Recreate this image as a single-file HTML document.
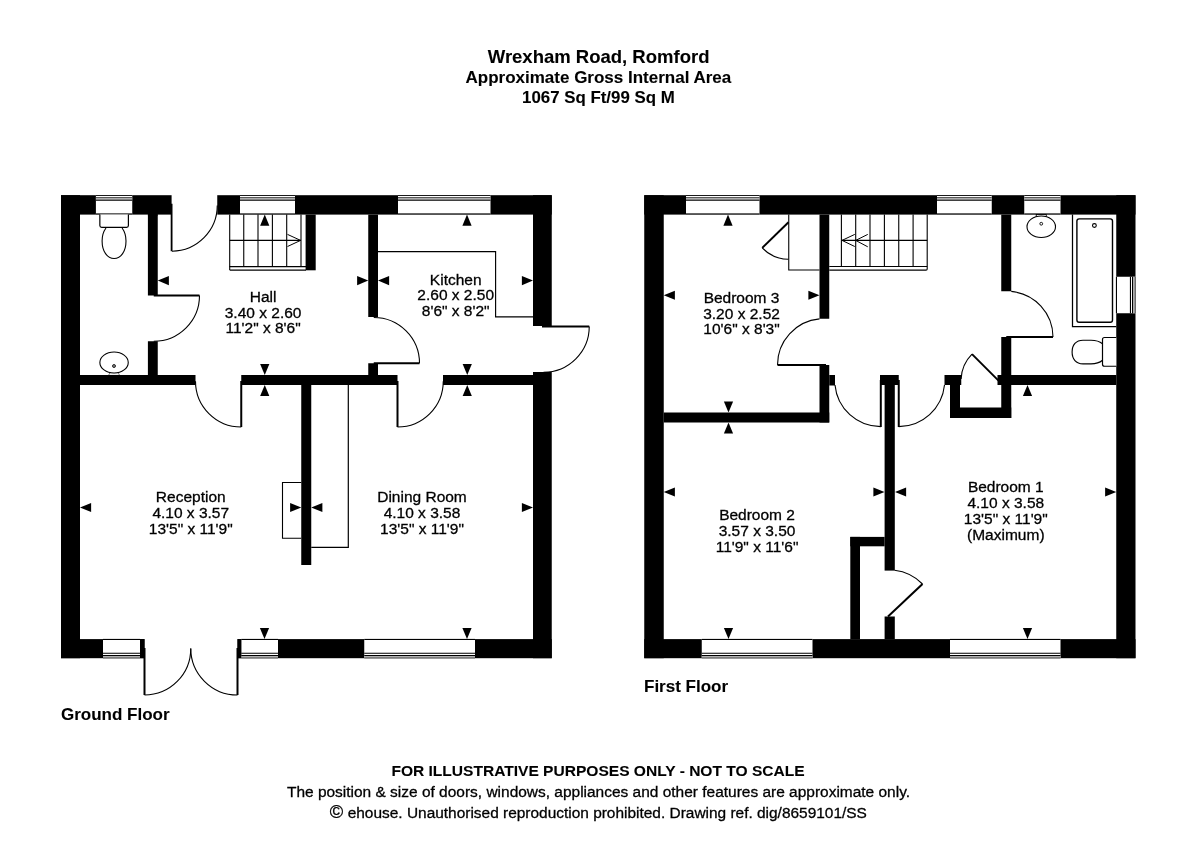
<!DOCTYPE html>
<html><head><meta charset="utf-8"><title>Floor plan</title>
<style>
html,body{margin:0;padding:0;background:#fff;}
body{width:1200px;height:848px;overflow:hidden;font-family:"Liberation Sans",sans-serif;}
svg{display:block;}
svg text{font-family:"Liberation Sans",sans-serif;fill:#000;stroke:#000;stroke-width:0.3px;}
</style></head><body>
<svg width="1200" height="848" viewBox="0 0 1200 848">
<rect x="0" y="0" width="1200" height="848" fill="#fff"/>
<g id="plan">
<rect x="61" y="195.2" width="490.75" height="19.4" fill="#000" />
<rect x="61" y="639.1" width="490.75" height="19.1" fill="#000" />
<rect x="61" y="195.2" width="19" height="463" fill="#000" />
<rect x="533" y="195.2" width="18.75" height="463" fill="#000" />
<rect x="95.9" y="194.9" width="36.35" height="20" fill="#fff" />
<rect x="95.9" y="195" width="36.35" height="0.9" fill="#000" />
<rect x="95.9" y="197" width="36.35" height="1.3" fill="#5a5a5a" />
<rect x="95.9" y="198.3" width="36.35" height="1.4" fill="#a2a2a2" />
<rect x="95.9" y="199.7" width="36.35" height="1.05" fill="#000" />
<rect x="95.9" y="213.4" width="36.35" height="1.25" fill="#000" />
<rect x="171.6" y="194.2" width="45.65" height="21.4" fill="#fff" />
<rect x="240" y="194.9" width="55" height="20" fill="#fff" />
<rect x="240" y="195" width="55" height="0.9" fill="#000" />
<rect x="240" y="197" width="55" height="1.3" fill="#5a5a5a" />
<rect x="240" y="198.3" width="55" height="1.4" fill="#a2a2a2" />
<rect x="240" y="199.7" width="55" height="1.05" fill="#000" />
<rect x="240" y="213.4" width="55" height="1.25" fill="#000" />
<rect x="398" y="194.9" width="92.5" height="20" fill="#fff" />
<rect x="398" y="195" width="92.5" height="0.9" fill="#000" />
<rect x="398" y="197" width="92.5" height="1.3" fill="#5a5a5a" />
<rect x="398" y="198.3" width="92.5" height="1.4" fill="#a2a2a2" />
<rect x="398" y="199.7" width="92.5" height="1.05" fill="#000" />
<rect x="398" y="213.4" width="92.5" height="1.25" fill="#000" />
<rect x="532" y="326" width="20.75" height="46" fill="#fff" />
<rect x="103" y="638.8" width="37" height="19.7" fill="#fff" />
<rect x="103" y="638.9" width="37" height="1.1" fill="#000" />
<rect x="103" y="652.75" width="37" height="1" fill="#000" />
<rect x="103" y="655" width="37" height="1" fill="#000" />
<rect x="103" y="656" width="37" height="1.25" fill="#b0b0b0" />
<rect x="103" y="657.25" width="37" height="1.3" fill="#5a5a5a" />
<rect x="144.5" y="638.1" width="93" height="21.1" fill="#fff" />
<rect x="241.25" y="638.8" width="36.75" height="19.7" fill="#fff" />
<rect x="241.25" y="638.9" width="36.75" height="1.1" fill="#000" />
<rect x="241.25" y="652.75" width="36.75" height="1" fill="#000" />
<rect x="241.25" y="655" width="36.75" height="1" fill="#000" />
<rect x="241.25" y="656" width="36.75" height="1.25" fill="#b0b0b0" />
<rect x="241.25" y="657.25" width="36.75" height="1.3" fill="#5a5a5a" />
<rect x="364.25" y="638.8" width="110.75" height="19.7" fill="#fff" />
<rect x="364.25" y="638.9" width="110.75" height="1.1" fill="#000" />
<rect x="364.25" y="652.75" width="110.75" height="1" fill="#000" />
<rect x="364.25" y="655" width="110.75" height="1" fill="#000" />
<rect x="364.25" y="656" width="110.75" height="1.25" fill="#b0b0b0" />
<rect x="364.25" y="657.25" width="110.75" height="1.3" fill="#5a5a5a" />
<rect x="147.9" y="214.6" width="9.85" height="80.9" fill="#000" />
<rect x="147.9" y="341.25" width="9.85" height="34.75" fill="#000" />
<rect x="80" y="375" width="115.5" height="10" fill="#000" />
<rect x="241.25" y="375" width="156.25" height="10" fill="#000" />
<rect x="443" y="375" width="90" height="10" fill="#000" />
<rect x="305.6" y="214.6" width="10.1" height="55.7" fill="#000" />
<rect x="368.25" y="214.6" width="9.75" height="102.4" fill="#000" />
<rect x="368.25" y="363.25" width="9.75" height="12.75" fill="#000" />
<rect x="301.25" y="385" width="10" height="180" fill="#000" />
<line x1="229.7" y1="214.6" x2="229.7" y2="267" stroke="#000" stroke-width="1.1" />
<line x1="243.75" y1="214.6" x2="243.75" y2="267" stroke="#000" stroke-width="1.1" />
<line x1="258" y1="214.6" x2="258" y2="267" stroke="#000" stroke-width="1.1" />
<line x1="272.4" y1="214.6" x2="272.4" y2="267" stroke="#000" stroke-width="1.1" />
<line x1="286.7" y1="214.6" x2="286.7" y2="267" stroke="#000" stroke-width="1.1" />
<line x1="301" y1="214.6" x2="301" y2="267" stroke="#000" stroke-width="1.1" />
<line x1="229.7" y1="240.4" x2="301" y2="240.4" stroke="#000" stroke-width="1.1" />
<line x1="229.7" y1="266.6" x2="306" y2="266.6" stroke="#000" stroke-width="1.1" />
<line x1="229.7" y1="270.1" x2="306" y2="270.1" stroke="#000" stroke-width="1.1" />
<line x1="229.7" y1="266.6" x2="229.7" y2="270.1" stroke="#000" stroke-width="1.1" />
<path d="M 287.5,234.4 L 300.6,240.4 L 287.5,246.5" fill="none" stroke="#000" stroke-width="1" />
<path d="M 378,251.6 L 495.6,251.6 L 495.6,316.8 L 533,316.8" fill="none" stroke="#000" stroke-width="1.15" />
<path d="M 301.25,482.5 L 282.5,482.5 L 282.5,538.25 L 301.25,538.25" fill="none" stroke="#000" stroke-width="1.1" />
<path d="M 348.3,385 L 348.3,547.3 L 311.25,547.3" fill="none" stroke="#000" stroke-width="1.2" />
<rect x="170.7" y="203.75" width="1.8" height="47.5" fill="#000" />
<path d="M 172,251.2 A 45.6 45.6 0 0 0 217.25,205.6" fill="none" stroke="#000" stroke-width="1.1" />
<line x1="153.75" y1="295.5" x2="199.5" y2="295.5" stroke="#000" stroke-width="2" />
<path d="M 199.5,295.5 A 45.75 45.75 0 0 1 153.75,341.25" fill="none" stroke="#000" stroke-width="1.1" />
<line x1="241.25" y1="381" x2="241.25" y2="427" stroke="#000" stroke-width="2" />
<path d="M 241.25,427 A 45.75 45.75 0 0 1 195.5,381.25" fill="none" stroke="#000" stroke-width="1.1" />
<line x1="373.75" y1="363.25" x2="419.5" y2="363.25" stroke="#000" stroke-width="2" />
<path d="M 419.5,363.25 A 45.75 45.75 0 0 0 373.75,317.5" fill="none" stroke="#000" stroke-width="1.1" />
<line x1="397.5" y1="381" x2="397.5" y2="427" stroke="#000" stroke-width="2" />
<path d="M 397.5,427 A 45.75 45.75 0 0 0 443.25,381.25" fill="none" stroke="#000" stroke-width="1.1" />
<line x1="542" y1="326.55" x2="589.25" y2="326.55" stroke="#000" stroke-width="2" />
<path d="M 589.25,326.5 A 45.75 45.75 0 0 1 543.5,372.2" fill="none" stroke="#000" stroke-width="1.1" />
<line x1="144.5" y1="648" x2="144.5" y2="695" stroke="#000" stroke-width="2" />
<path d="M 144.5,695 A 46.25 46.25 0 0 0 190.75,648.75" fill="none" stroke="#000" stroke-width="1.1" />
<line x1="237.5" y1="648" x2="237.5" y2="695" stroke="#000" stroke-width="2" />
<path d="M 237.5,695 A 46.75 46.75 0 0 1 190.75,648.25" fill="none" stroke="#000" stroke-width="1.1" />
<rect x="140" y="639.1" width="4.5" height="19.1" fill="#000" />
<rect x="237.5" y="639.1" width="3.75" height="19.1" fill="#000" />
<rect x="147.9" y="213.6" width="9.85" height="2" fill="#000" />
<path d="M 99.85,214.6 L 99.85,225.6 Q 99.85,227.4 101.7,227.4 L 126.6,227.4 Q 128.4,227.4 128.4,225.6 L 128.4,214.6" fill="#fff" stroke="#000" stroke-width="1.2" />
<path d="M 106,228 C 103,232 102.1,236 102.1,241 C 102.1,251.5 107.3,258.5 114.1,258.5 C 120.9,258.5 126,251.5 126,241 C 126,236 125,232 122.1,228" fill="#fff" stroke="#000" stroke-width="1.1" />
<path d="M 108.75,375 L 110,372.6 L 118.2,372.6 L 119.4,375" fill="#eee" stroke="#555" stroke-width="0.8"/>
<ellipse cx="114.06" cy="362.5" rx="14.2" ry="10.5" fill="#fff" stroke="#000" stroke-width="1.1"/>
<circle cx="114" cy="366" r="1.5" fill="#888" stroke="#000" stroke-width="0.8"/>
<polygon points="157.75,280.6 168.85,276 168.85,285.2" fill="#000"/>
<polygon points="368.25,280.6 357.15,276 357.15,285.2" fill="#000"/>
<polygon points="378,280.6 389.1,276 389.1,285.2" fill="#000"/>
<polygon points="533,280.6 521.9,276 521.9,285.2" fill="#000"/>
<polygon points="467,214.6 462.4,225.7 471.6,225.7" fill="#000"/>
<polygon points="264.75,375 260.15,363.9 269.35,363.9" fill="#000"/>
<polygon points="264.75,385 260.15,396.1 269.35,396.1" fill="#000"/>
<polygon points="467.25,375 462.65,363.9 471.85,363.9" fill="#000"/>
<polygon points="467.25,385 462.65,396.1 471.85,396.1" fill="#000"/>
<polygon points="80,507.5 91.1,502.9 91.1,512.1" fill="#000"/>
<polygon points="301.25,507.5 290.15,502.9 290.15,512.1" fill="#000"/>
<polygon points="311.25,507.5 322.35,502.9 322.35,512.1" fill="#000"/>
<polygon points="533,507.5 521.9,502.9 521.9,512.1" fill="#000"/>
<polygon points="264.5,639.1 259.9,628 269.1,628" fill="#000"/>
<polygon points="467,639.1 462.4,628 471.6,628" fill="#000"/>
<polygon points="264.75,214.6 260.15,225.7 269.35,225.7" fill="#000"/>
<rect x="644.25" y="195.2" width="491.25" height="19.4" fill="#000" />
<rect x="644.25" y="639.1" width="491.25" height="19.1" fill="#000" />
<rect x="644.25" y="195.2" width="19.5" height="463" fill="#000" />
<rect x="1116.25" y="195.2" width="19.25" height="463" fill="#000" />
<rect x="686" y="194.9" width="73.5" height="20" fill="#fff" />
<rect x="686" y="195" width="73.5" height="0.9" fill="#000" />
<rect x="686" y="197" width="73.5" height="1.3" fill="#5a5a5a" />
<rect x="686" y="198.3" width="73.5" height="1.4" fill="#a2a2a2" />
<rect x="686" y="199.7" width="73.5" height="1.05" fill="#000" />
<rect x="686" y="213.4" width="73.5" height="1.25" fill="#000" />
<rect x="937" y="194.9" width="54.75" height="20" fill="#fff" />
<rect x="937" y="195" width="54.75" height="0.9" fill="#000" />
<rect x="937" y="197" width="54.75" height="1.3" fill="#5a5a5a" />
<rect x="937" y="198.3" width="54.75" height="1.4" fill="#a2a2a2" />
<rect x="937" y="199.7" width="54.75" height="1.05" fill="#000" />
<rect x="937" y="213.4" width="54.75" height="1.25" fill="#000" />
<rect x="1024.25" y="194.9" width="36.25" height="20" fill="#fff" />
<rect x="1024.25" y="195" width="36.25" height="0.9" fill="#000" />
<rect x="1024.25" y="197" width="36.25" height="1.3" fill="#5a5a5a" />
<rect x="1024.25" y="198.3" width="36.25" height="1.4" fill="#a2a2a2" />
<rect x="1024.25" y="199.7" width="36.25" height="1.05" fill="#000" />
<rect x="1024.25" y="213.4" width="36.25" height="1.25" fill="#000" />
<rect x="1115.95" y="276.75" width="19.85" height="36.5" fill="#fff" />
<rect x="1115.9" y="276.75" width="1.1" height="36.5" fill="#000" />
<rect x="1129.9" y="276.75" width="1.1" height="36.5" fill="#000" />
<rect x="1132" y="276.75" width="1" height="36.5" fill="#000" />
<rect x="1133" y="276.75" width="1.5" height="36.5" fill="#b0b0b0" />
<rect x="1134.5" y="276.75" width="1.35" height="36.5" fill="#5a5a5a" />
<rect x="701.75" y="638.8" width="110.75" height="19.7" fill="#fff" />
<rect x="701.75" y="638.9" width="110.75" height="1.1" fill="#000" />
<rect x="701.75" y="652.75" width="110.75" height="1" fill="#000" />
<rect x="701.75" y="655" width="110.75" height="1" fill="#000" />
<rect x="701.75" y="656" width="110.75" height="1.25" fill="#b0b0b0" />
<rect x="701.75" y="657.25" width="110.75" height="1.3" fill="#5a5a5a" />
<rect x="950" y="638.8" width="110.5" height="19.7" fill="#fff" />
<rect x="950" y="638.9" width="110.5" height="1.1" fill="#000" />
<rect x="950" y="652.75" width="110.5" height="1" fill="#000" />
<rect x="950" y="655" width="110.5" height="1" fill="#000" />
<rect x="950" y="656" width="110.5" height="1.25" fill="#b0b0b0" />
<rect x="950" y="657.25" width="110.5" height="1.3" fill="#5a5a5a" />
<rect x="819.5" y="214.6" width="9.75" height="104.15" fill="#000" />
<rect x="819.5" y="365" width="9.75" height="57.5" fill="#000" />
<rect x="829.25" y="375" width="5.75" height="10.5" fill="#000" />
<rect x="663.75" y="412.5" width="165.5" height="10" fill="#000" />
<rect x="880" y="375" width="18.75" height="10" fill="#000" />
<rect x="884.6" y="375" width="10.2" height="195.6" fill="#000" />
<rect x="884.6" y="616.5" width="10.2" height="22.6" fill="#000" />
<rect x="850.3" y="536.9" width="34.3" height="9.4" fill="#000" />
<rect x="850.3" y="536.9" width="9.7" height="102.2" fill="#000" />
<rect x="1001.25" y="214.6" width="10" height="76.65" fill="#000" />
<rect x="1001.25" y="337" width="10" height="81" fill="#000" />
<rect x="997.5" y="375" width="118.75" height="10" fill="#000" />
<rect x="950" y="407.5" width="61.25" height="10.5" fill="#000" />
<rect x="950" y="375" width="10" height="43" fill="#000" />
<rect x="944.5" y="375" width="16.75" height="10" fill="#000" />
<line x1="841.4" y1="214.6" x2="841.4" y2="266.6" stroke="#000" stroke-width="1.1" />
<line x1="855.7" y1="214.6" x2="855.7" y2="266.6" stroke="#000" stroke-width="1.1" />
<line x1="870" y1="214.6" x2="870" y2="266.6" stroke="#000" stroke-width="1.1" />
<line x1="884.4" y1="214.6" x2="884.4" y2="266.6" stroke="#000" stroke-width="1.1" />
<line x1="898.75" y1="214.6" x2="898.75" y2="266.6" stroke="#000" stroke-width="1.1" />
<line x1="913.1" y1="214.6" x2="913.1" y2="266.6" stroke="#000" stroke-width="1.1" />
<line x1="841.4" y1="240.4" x2="927.2" y2="240.4" stroke="#000" stroke-width="1.1" />
<line x1="829.25" y1="266.5" x2="927.2" y2="266.5" stroke="#000" stroke-width="1.1" />
<path d="M 829.25,270.1 L 926,270.1 Q 927.2,270.1 927.2,268.9 L 927.2,214.5" fill="none" stroke="#000" stroke-width="1.1" />
<path d="M 867.75,234.4 L 855.7,240.4 L 867.75,246.8 M 854.75,234.4 L 842,240.4 L 854.75,246.5" fill="none" stroke="#000" stroke-width="1" />
<path d="M 788.75,214.5 L 788.75,270 L 819.5,270" fill="none" stroke="#000" stroke-width="1.1" />
<line x1="788.5" y1="222.25" x2="762.25" y2="247.9" stroke="#000" stroke-width="2" />
<path d="M 762.25,247.9 A 37 37 0 0 0 788.5,259.3" fill="none" stroke="#000" stroke-width="1.1" />
<line x1="777.5" y1="365" x2="826" y2="365" stroke="#000" stroke-width="2" />
<path d="M 777.5,365 A 46.25 46.25 0 0 1 819.5,318.9" fill="none" stroke="#000" stroke-width="1.1" />
<line x1="880.8" y1="380" x2="880.8" y2="427" stroke="#000" stroke-width="2" />
<path d="M 880.8,426.6 A 45.9 45.9 0 0 1 835,385" fill="none" stroke="#000" stroke-width="1.1" />
<line x1="898.75" y1="380" x2="898.75" y2="427" stroke="#000" stroke-width="2" />
<path d="M 898.75,426.6 A 46.2 46.2 0 0 0 944.5,385" fill="none" stroke="#000" stroke-width="1.1" />
<line x1="998.5" y1="380.6" x2="972" y2="354.1" stroke="#000" stroke-width="2" />
<path d="M 972,354.1 A 37.5 37.5 0 0 0 961.1,379" fill="none" stroke="#000" stroke-width="1.1" />
<line x1="1006.25" y1="337" x2="1053" y2="337" stroke="#000" stroke-width="2" />
<path d="M 1053,337 A 46 46 0 0 0 1011.25,291.4" fill="none" stroke="#000" stroke-width="1.1" />
<line x1="888" y1="616.6" x2="922.5" y2="584" stroke="#000" stroke-width="2" />
<path d="M 922.5,584 A 47 47 0 0 0 894.6,570.3" fill="none" stroke="#000" stroke-width="1.1" />
<rect x="1036.25" y="214.5" width="10" height="2.5" fill="#fff" stroke="#000" stroke-width="0.9"/>
<ellipse cx="1041.25" cy="226.75" rx="14.25" ry="10.75" fill="#fff" stroke="#000" stroke-width="1.1"/>
<circle cx="1041.25" cy="223.75" r="1.4" fill="#fff" stroke="#000" stroke-width="0.9"/>
<path d="M 1072.5,214.5 L 1072.5,326.6 L 1116.25,326.6" fill="none" stroke="#000" stroke-width="1.25" />
<rect x="1076.9" y="218.9" width="35.6" height="103.4" rx="2.2" fill="#fff" stroke="#000" stroke-width="1.4"/>
<circle cx="1094.4" cy="225.5" r="1.9" fill="#fff" stroke="#000" stroke-width="1.1"/>
<path d="M 1102.5,343.75 C 1099.5,341.2 1095.5,340.2 1091,340.2 L 1083,340.2 C 1076,340.2 1072.1,345 1072.1,352 C 1072.1,359 1076,363.8 1083,363.8 L 1091,363.8 C 1095.5,363.8 1099.5,362.8 1102.5,360.2" fill="#fff" stroke="#000" stroke-width="1.15" />
<path d="M 1116.25,337.5 L 1104.5,337.5 Q 1102.5,337.5 1102.5,339.5 L 1102.5,364.25 Q 1102.5,366.25 1104.5,366.25 L 1116.25,366.25" fill="#fff" stroke="#000" stroke-width="1.2" />
<polygon points="728,214.6 723.4,225.7 732.6,225.7" fill="#000"/>
<polygon points="663.75,295.25 674.85,290.65 674.85,299.85" fill="#000"/>
<polygon points="819.5,295.25 808.4,290.65 808.4,299.85" fill="#000"/>
<polygon points="728.5,412.5 723.9,401.4 733.1,401.4" fill="#000"/>
<polygon points="728.5,422.5 723.9,433.6 733.1,433.6" fill="#000"/>
<polygon points="663.75,492 674.85,487.4 674.85,496.6" fill="#000"/>
<polygon points="884.5,492 873.4,487.4 873.4,496.6" fill="#000"/>
<polygon points="895,492 906.1,487.4 906.1,496.6" fill="#000"/>
<polygon points="1116.25,492 1105.15,487.4 1105.15,496.6" fill="#000"/>
<polygon points="728.5,639.1 723.9,628 733.1,628" fill="#000"/>
<polygon points="1027.5,639.1 1022.9,628 1032.1,628" fill="#000"/>
<polygon points="1027.5,385 1022.9,396.1 1032.1,396.1" fill="#000"/>
</g>
<g id="labels" style="will-change:transform">
<text x="598.6" y="63" font-size="18.5" text-anchor="middle" font-weight="bold" style="stroke-width:0.1px">Wrexham Road, Romford</text>
<text x="598.4" y="83" font-size="17" text-anchor="middle" font-weight="bold" style="stroke-width:0.1px">Approximate Gross Internal Area</text>
<text x="598.4" y="103" font-size="16.85" text-anchor="middle" font-weight="bold" style="stroke-width:0.1px">1067 Sq Ft/99 Sq M</text>
<text x="598" y="776" font-size="15.56" text-anchor="middle" font-weight="bold" style="stroke-width:0.1px">FOR ILLUSTRATIVE PURPOSES ONLY - NOT TO SCALE</text>
<text x="598.5" y="797" font-size="15.47" text-anchor="middle">The position &amp; size of doors, windows, appliances and other features are approximate only.</text>
<text x="347.7" y="818" font-size="15.45" text-anchor="start">ehouse. Unauthorised reproduction prohibited. Drawing ref. dig/8659101/SS</text>
<text x="336.4" y="818" font-size="18.2" text-anchor="middle">©</text>
<text x="61" y="720" font-size="17" text-anchor="start" font-weight="bold" style="stroke-width:0.1px">Ground Floor</text>
<text x="644" y="692" font-size="17" text-anchor="start" font-weight="bold" style="stroke-width:0.1px">First Floor</text>
<text x="263.1" y="302" font-size="15.5" text-anchor="middle">Hall</text>
<text x="263.1" y="318" font-size="15.5" text-anchor="middle">3.40 x 2.60</text>
<text x="263.1" y="333" font-size="15.5" text-anchor="middle">11'2" x 8'6"</text>
<text x="455.7" y="285" font-size="15.5" text-anchor="middle">Kitchen</text>
<text x="455.7" y="300" font-size="15.5" text-anchor="middle">2.60 x 2.50</text>
<text x="455.7" y="316" font-size="15.5" text-anchor="middle">8'6" x 8'2"</text>
<text x="190.75" y="502" font-size="15.5" text-anchor="middle">Reception</text>
<text x="190.75" y="518" font-size="15.5" text-anchor="middle">4.10 x 3.57</text>
<text x="190.75" y="534" font-size="15.5" text-anchor="middle">13'5" x 11'9"</text>
<text x="422" y="502" font-size="15.5" text-anchor="middle">Dining Room</text>
<text x="422" y="518" font-size="15.5" text-anchor="middle">4.10 x 3.58</text>
<text x="422" y="534" font-size="15.5" text-anchor="middle">13'5" x 11'9"</text>
<text x="741.55" y="303" font-size="15.5" text-anchor="middle">Bedroom 3</text>
<text x="741.55" y="319" font-size="15.5" text-anchor="middle">3.20 x 2.52</text>
<text x="741.55" y="334" font-size="15.5" text-anchor="middle">10'6" x 8'3"</text>
<text x="757.05" y="520" font-size="15.5" text-anchor="middle">Bedroom 2</text>
<text x="757.05" y="536" font-size="15.5" text-anchor="middle">3.57 x 3.50</text>
<text x="757.05" y="552" font-size="15.5" text-anchor="middle">11'9" x 11'6"</text>
<text x="1005.8" y="492" font-size="15.5" text-anchor="middle">Bedroom 1</text>
<text x="1005.8" y="508" font-size="15.5" text-anchor="middle">4.10 x 3.58</text>
<text x="1005.8" y="524" font-size="15.5" text-anchor="middle">13'5" x 11'9"</text>
<text x="1005.8" y="540" font-size="15.5" text-anchor="middle">(Maximum)</text>
</g>
</svg>
</body></html>
